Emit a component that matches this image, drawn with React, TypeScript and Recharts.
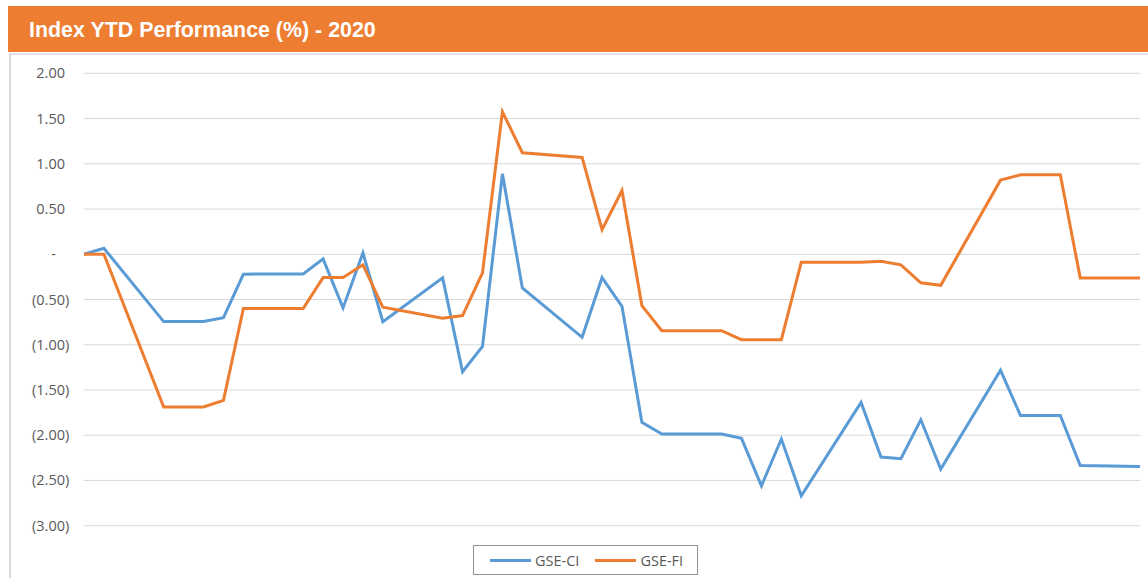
import React from "react";
import { LineChart, Line, XAxis, YAxis, CartesianGrid } from "recharts";

const dates = [
  "2020-01-02", "2020-01-03", "2020-01-06", "2020-01-07", "2020-01-08", "2020-01-09", "2020-01-10",
  "2020-01-13", "2020-01-14", "2020-01-15", "2020-01-16", "2020-01-17",
  "2020-01-20", "2020-01-21", "2020-01-22", "2020-01-23", "2020-01-24",
  "2020-01-27", "2020-01-28", "2020-01-29", "2020-01-30", "2020-01-31",
  "2020-02-03", "2020-02-04", "2020-02-05", "2020-02-06", "2020-02-07",
  "2020-02-10", "2020-02-11", "2020-02-12", "2020-02-13", "2020-02-14",
  "2020-02-17", "2020-02-18", "2020-02-19", "2020-02-20", "2020-02-21",
  "2020-02-24",
];

const gseCI = [
  0, 0.066, -0.744, -0.744, -0.744, -0.7, -0.22,
  -0.217, -0.051, -0.593, 0.015, -0.745,
  -0.261, -1.298, -1.018, 0.889, -0.372,
  -0.918, -0.258, -0.575, -1.858, -1.987,
  -1.987, -2.035, -2.559, -2.042, -2.669,
  -1.637, -2.241, -2.26, -1.829, -2.374,
  -1.283, -1.781, -1.781, -1.781, -2.334,
  -2.345,
];

const gseFI = [
  0, 0, -1.688, -1.688, -1.688, -1.615, -0.6,
  -0.6, -0.258, -0.258, -0.117, -0.586,
  -0.708, -0.678, -0.206, 1.575, 1.122,
  1.07, 0.273, 0.705, -0.567, -0.844,
  -0.844, -0.944, -0.944, -0.944, -0.088,
  -0.088, -0.077, -0.117, -0.316, -0.343,
  0.819, 0.878, 0.878, 0.878, -0.261,
  -0.261,
];

const yTicks = [2, 1.5, 1, 0.5, 0, -0.5, -1, -1.5, -2, -2.5, -3];
const seriesNames = ["GSE-CI", "GSE-FI"];
const seriesColors = ["#5B9BD5", "#ED7D31"];
const title = "Index YTD Performance (%) - 2020";

const DAY = 86400000;
const start = Date.parse(dates[0]);
const data = dates.map((d, i) => ({
  day: Math.round((Date.parse(d) - start) / DAY),
  date: d,
  ci: gseCI[i],
  fi: gseFI[i],
}));
const lastDay = data[data.length - 1].day;

const tickFont = "'Open Sans', 'DejaVu Sans', sans-serif";

const YTick = (props: any) => {
  const { x, y, payload } = props;
  const v: number = payload.value;
  const common = { fontFamily: tickFont, fontSize: 14.5, fill: "#595959" };
  if (Math.abs(v) < 1e-9) {
    return (
      <text x={x - 9} y={y} dy={5} textAnchor="end" {...common}>
        -
      </text>
    );
  }
  if (v < 0) {
    return (
      <g>
        <text x={x} y={y} dy={5} textAnchor="end" {...common}>
          {"(" + Math.abs(v).toFixed(2)}
        </text>
        <text x={x} y={y} dy={5} textAnchor="start" {...common}>
          )
        </text>
      </g>
    );
  }
  return (
    <text x={x} y={y} dy={5} textAnchor="end" {...common}>
      {v.toFixed(2)}
    </text>
  );
};

const LegendBox = () => (
  <div
    style={{
      position: "absolute",
      left: 473,
      top: 545,
      display: "flex",
      alignItems: "center",
      height: 30,
      border: "1px solid #8C9099",
      background: "#fff",
      padding: "0 10px 0 16px",
      fontFamily: tickFont,
      fontSize: 14.5,
      color: "#595959",
      boxSizing: "border-box",
      width: 225,
    }}
  >
    {seriesNames.map((n, i) => (
      <div key={n} style={{ display: "flex", alignItems: "center", marginRight: i === 0 ? 16 : 0 }}>
        <div style={{ width: 41, height: 3, background: seriesColors[i], marginRight: 4 }} />
        <span>{n}</span>
      </div>
    ))}
  </div>
);

export default function App() {
  return (
    <div style={{ position: "absolute", left: 0, top: 0, width: 1148, height: 578, background: "#fff", overflow: "hidden" }}>
      <div
        style={{
          position: "absolute",
          left: 9,
          top: 53,
          width: 1139,
          height: 530,
          borderLeft: "2px solid #D9D9D9",
          borderTop: "2px solid #E3E3E3",
          boxSizing: "border-box",
        }}
      />
      <div
        style={{
          position: "absolute",
          left: 8,
          top: 6,
          width: 1140,
          height: 46,
          background: "#ED7D31",
          color: "#fff",
          fontFamily: "'Liberation Sans', Arial, sans-serif",
          fontWeight: 700,
          fontSize: 21.4,
          lineHeight: "48px",
          paddingLeft: 21,
          boxSizing: "border-box",
        }}
      >
        {title}
      </div>
      <div style={{ position: "absolute", left: 0, top: 0 }}>
        <LineChart
          width={1148}
          height={578}
          data={data}
          margin={{ top: 73.3, right: 8, bottom: 52.3, left: 0 }}
        >
          <CartesianGrid vertical={false} stroke="#D9D9D9" strokeWidth={1} />
          <XAxis type="number" dataKey="day" domain={[0, lastDay]} hide height={0} />
          <YAxis
            type="number"
            domain={[-3, 2]}
            ticks={yTicks}
            width={84}
            axisLine={false}
            tickLine={false}
            tickSize={0}
            tickMargin={19}
            tick={<YTick />}
            interval={0}
          />
          <Line
            type="linear"
            dataKey="ci"
            name={seriesNames[0]}
            stroke={seriesColors[0]}
            strokeWidth={3}
            dot={false}
            isAnimationActive={false}
          />
          <Line
            type="linear"
            dataKey="fi"
            name={seriesNames[1]}
            stroke={seriesColors[1]}
            strokeWidth={3}
            dot={false}
            isAnimationActive={false}
          />
        </LineChart>
      </div>
      <LegendBox />
    </div>
  );
}
